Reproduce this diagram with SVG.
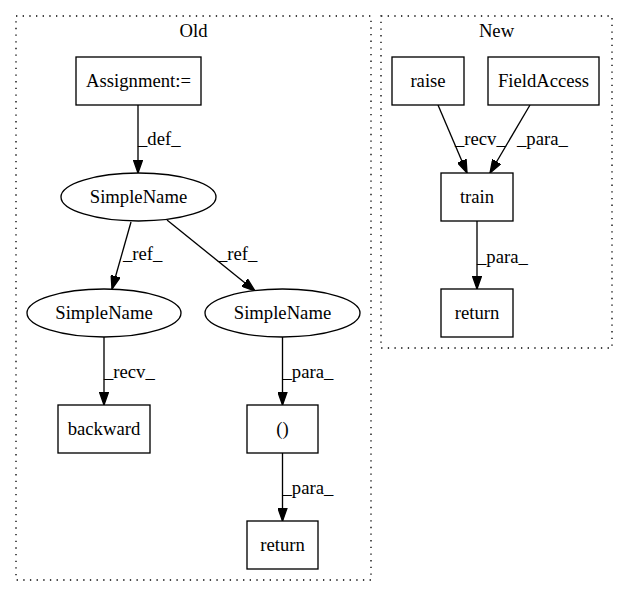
<svg xmlns="http://www.w3.org/2000/svg" width="627" height="596" viewBox="0 0 627 596">
<style>
text{font-family:"Liberation Serif","Times New Roman",serif;font-size:18.67px;fill:#000}
.n{fill:#fff;stroke:#000;stroke-width:1.33}
.c{fill:none;stroke:#000;stroke-width:1.33;stroke-dasharray:1.33,5.33}
.e{fill:none;stroke:#000;stroke-width:1.33;marker-end:url(#a)}
.m{text-anchor:middle}
</style>
<defs>
<marker id="a" markerUnits="userSpaceOnUse" markerWidth="14" markerHeight="10" viewBox="0 -5 14 10" refX="13.3" refY="0" orient="auto">
<path d="M0,-4.67L13.3,0L0,4.67Z" fill="#000" stroke="#000" stroke-width="1.33"/>
</marker>
</defs>
<rect width="627" height="596" fill="#fff"/>
<g id="cluster_old">
<rect class="c" x="16" y="16" width="355" height="564"/>
<text class="m" x="193.5" y="37">Old</text>
</g>
<g id="cluster_new">
<rect class="c" x="381" y="16" width="231" height="332"/>
<text class="m" x="496.5" y="37">New</text>
</g>
<g id="connectors">
<path class="e" d="M138,105L138,173"/>
<text x="138" y="145">_def_</text>
<path class="e" d="M131,222L112,289"/>
<text x="123" y="260">_ref_</text>
<path class="e" d="M167,220L255,291"/>
<text x="218" y="260">_ref_</text>
<path class="e" d="M104,337L104,405"/>
<text x="104" y="378">_recv_</text>
<path class="e" d="M282.5,337L282.5,405"/>
<text x="282.5" y="378">_para_</text>
<path class="e" d="M282.5,453L282.5,521"/>
<text x="282.5" y="494">_para_</text>
<path class="e" d="M438,105L467,173"/>
<text x="455" y="145">_recv_</text>
<path class="e" d="M530,105L490,173"/>
<text x="517" y="145">_para_</text>
<path class="e" d="M477,221L477,289"/>
<text x="477" y="263">_para_</text>
</g>
<g id="assignment">
<rect class="n" x="76" y="57" width="125" height="48"/>
<text class="m" x="138.5" y="87">Assignment:=</text>
</g>
<g id="simplename1">
<ellipse class="n" cx="138.5" cy="197" rx="77.5" ry="24"/>
<text class="m" x="138.5" y="203">SimpleName</text>
</g>
<g id="simplename2">
<ellipse class="n" cx="104" cy="313" rx="77" ry="24"/>
<text class="m" x="104" y="319">SimpleName</text>
</g>
<g id="simplename3">
<ellipse class="n" cx="282.5" cy="313" rx="77.5" ry="24"/>
<text class="m" x="282.5" y="319">SimpleName</text>
</g>
<g id="backward">
<rect class="n" x="58" y="405" width="92" height="48"/>
<text class="m" x="104" y="435">backward</text>
</g>
<g id="paren">
<rect class="n" x="247" y="405" width="71" height="48"/>
<text class="m" x="282.5" y="435">()</text>
</g>
<g id="return_old">
<rect class="n" x="247" y="521" width="71" height="48"/>
<text class="m" x="282.5" y="551">return</text>
</g>
<g id="raise">
<rect class="n" x="392" y="57" width="72" height="48"/>
<text class="m" x="428" y="87">raise</text>
</g>
<g id="fieldaccess">
<rect class="n" x="488" y="57" width="111" height="48"/>
<text class="m" x="543.5" y="87">FieldAccess</text>
</g>
<g id="train">
<rect class="n" x="441" y="173" width="72" height="48"/>
<text class="m" x="477" y="203">train</text>
</g>
<g id="return_new">
<rect class="n" x="441" y="289" width="72" height="48"/>
<text class="m" x="477" y="319">return</text>
</g>
</svg>
